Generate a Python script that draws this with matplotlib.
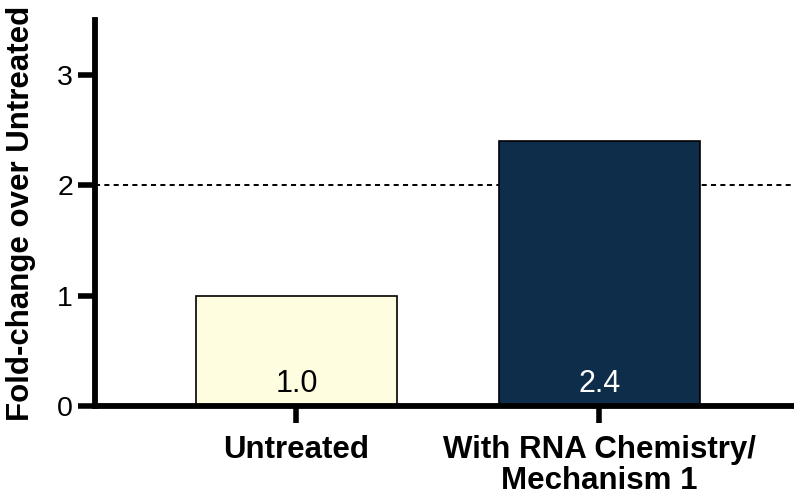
import matplotlib
matplotlib.use("Agg")
import matplotlib.pyplot as plt

categories = ["Untreated", "With RNA Chemistry/\nMechanism 1"]
values = [1.0, 2.4]
value_labels = ["1.0", "2.4"]
bar_colors = ["#FFFDDF", "#0E2D4A"]
label_colors = ["black", "white"]
yticks = [0, 1, 2, 3]
threshold = 2
ylabel = "Fold-change over Untreated"

plt.rcParams['font.family'] = ['Liberation Sans', 'DejaVu Sans']

fig = plt.figure(figsize=(7.94, 4.96), dpi=100)
ax = fig.add_axes([0.12, 0.1815, 0.88, 0.778])

x = list(range(len(categories)))
ax.axhline(threshold, color="black", lw=1.4, ls=(0, (2.6, 2.2)), zorder=1)
bars = ax.bar(x, values, width=0.663, color=bar_colors, edgecolor="black",
              linewidth=1.2, zorder=2)
for xi, lab, c in zip(x, value_labels, label_colors):
    ax.text(xi, 0.125, lab, ha="center", va="baseline", fontsize=22,
            color=c, zorder=3)

ax.set_xlim(-0.664, 1.642)
ax.set_ylim(0, 3.5)
ax.set_yticks(yticks)
ax.set_xticks(x)
ax.set_xticklabels(categories, fontsize=22.5, fontweight="bold", linespacing=1.05)
ax.tick_params(axis="y", labelsize=20.5, length=12, width=4, pad=4)
ax.tick_params(axis="x", length=12, width=4, pad=9)
for side in ["top", "right"]:
    ax.spines[side].set_visible(False)
for side in ["left", "bottom"]:
    ax.spines[side].set_linewidth(4.2)
ax.set_ylabel(ylabel, fontsize=22.5, fontweight="bold", labelpad=10)
ax.yaxis.set_label_coords(-0.085, 0.5)

fig.savefig("out.png", dpi=100)
